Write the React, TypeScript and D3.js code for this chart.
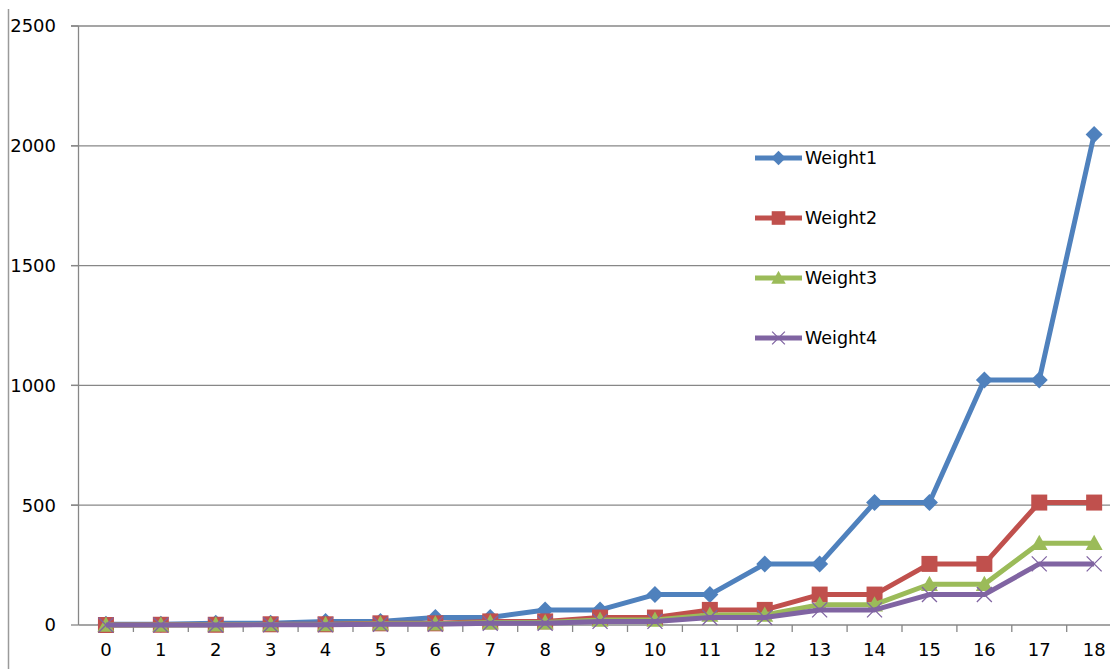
import React from "react";
import * as d3 from "d3";

const categories = ["0","1","2","3","4","5","6","7","8","9","10","11","12","13","14","15","16","17","18"];
const weight1 = [3,3,7,7,15,15,31,31,63,63,127,127,255,255,511,511,1023,1023,2047];
const weight2 = [0,1,1,3,3,7,7,15,15,31,31,63,63,127,127,255,255,511,511];
const weight3 = [0,0,1,2,2,5,5,10,10,21,21,42,42,85,85,170,170,341,341];
const weight4 = [0,0,0,1,1,3,3,7,7,15,15,31,31,63,63,127,127,255,255];
const yTicks = [0, 500, 1000, 1500, 2000, 2500];
const seriesNames = ["Weight1", "Weight2", "Weight3", "Weight4"];
const colors = ["#4F81BD", "#C0504D", "#9BBB59", "#8064A2"];

const W = 1110, H = 669;
const left = 78.5, step = 54.9, top = 26, bottom = 625;
const font = "'DejaVu Sans', Verdana, sans-serif";

function Marker({ kind, x, y, color, small }: { kind: number; x: number; y: number; color: string; small?: boolean }) {
  const f = small ? 0.85 : 1;
  if (kind === 0) {
    const s = 8.5 * f;
    return <path d={`M${x},${y - s}L${x + s},${y}L${x},${y + s}L${x - s},${y}Z`} fill={color} />;
  }
  if (kind === 1) {
    const s = 8 * f;
    return <rect x={x - s} y={y - s} width={2 * s} height={2 * s} fill={color} />;
  }
  if (kind === 2) {
    const s = 8.5 * f;
    return <path d={`M${x},${y - s}L${x + s},${y + s * 0.8}L${x - s},${y + s * 0.8}Z`} fill={color} />;
  }
  const s = 7.5 * f;
  return (
    <path d={`M${x - s},${y - s}L${x + s},${y + s}M${x + s},${y - s}L${x - s},${y + s}`} stroke={color} strokeWidth={1.3} fill="none" />
  );
}

export default function App() {
  const x = d3.scaleBand<string>().domain(categories).range([left, left + step * categories.length]);
  const y = d3.scaleLinear().domain([0, 2500]).range([bottom, top]);
  const cx = (c: string) => (x(c) as number) + x.bandwidth() / 2;
  const series = [weight1, weight2, weight3, weight4];
  const line = d3.line<number>().x((_, i) => cx(categories[i])).y((d) => y(d));

  return (
    <svg width={W} height={H} style={{ position: "absolute", left: 0, top: 0, background: "#fff" }}>
      <rect x={0} y={0} width={W} height={H} fill="#fff" />
      <line x1={8.5} x2={8.5} y1={9} y2={H} stroke="#9a9a9a" strokeWidth={1.5} />
      {yTicks.map((t) => (
        <g key={t}>
          {t > 0 && <line x1={71} x2={W} y1={y(t)} y2={y(t)} stroke="#878787" strokeWidth={1.3} />}
          <line x1={71} x2={left} y1={y(t)} y2={y(t)} stroke="#878787" strokeWidth={1.3} />
          <text x={56} y={y(t)} dy="0.35em" textAnchor="end" fontFamily={font} fontSize={18} fill="#000">{t}</text>
        </g>
      ))}
      <line x1={left} x2={left} y1={top} y2={bottom} stroke="#878787" strokeWidth={1.3} />
      <line x1={left} x2={W} y1={bottom} y2={bottom} stroke="#878787" strokeWidth={1.3} />
      {categories.map((c) => (
        <g key={c}>
          <line x1={(x(c) as number) + step} x2={(x(c) as number) + step} y1={bottom} y2={bottom + 7} stroke="#878787" strokeWidth={1.3} />
          <text x={cx(c)} y={650} dy="0.35em" textAnchor="middle" fontFamily={font} fontSize={18} fill="#000">{c}</text>
        </g>
      ))}
      {series.map((s, k) => (
        <g key={k}>
          <path d={line(s) || ""} fill="none" stroke={colors[k]} strokeWidth={5} strokeLinejoin="round" />
          {s.map((v, i) => (
            <Marker key={i} kind={k} x={cx(categories[i])} y={y(v)} color={colors[k]} />
          ))}
        </g>
      ))}
      {seriesNames.map((n, k) => {
        const ly = 158 + k * 60;
        return (
          <g key={n}>
            <line x1={755} x2={802} y1={ly} y2={ly} stroke={colors[k]} strokeWidth={5} />
            <Marker kind={k} x={778.5} y={ly} color={colors[k]} small />
            <text x={805} y={ly} dy="0.35em" fontFamily={font} fontSize={17.5} fill="#000">{n}</text>
          </g>
        );
      })}
    </svg>
  );
}
